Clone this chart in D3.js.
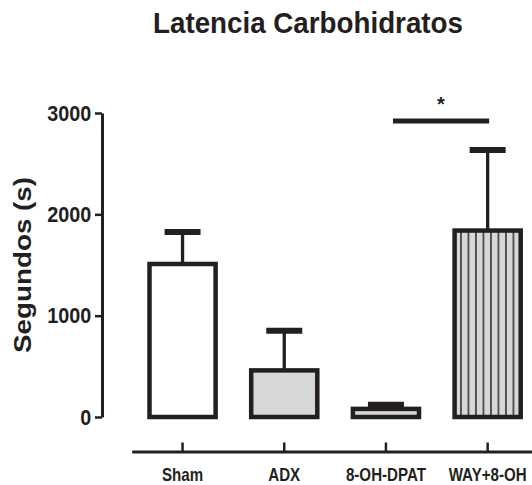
<!DOCTYPE html>
<html>
<head>
<meta charset="utf-8">
<script src="https://cdn.jsdelivr.net/npm/d3@7"></script>
<style>
body { margin: 0; background: #fff; }
svg { display: block; }
.axisClass text { font-family: "Liberation Sans", Arial, sans-serif; font-weight: bold; fill: #231f20; }
.axisClass line, .axisClass path { stroke: #231f20; }
</style>
</head>
<body>
<div id="chart"></div>
<script>

// data
const groups = ["Sham", "ADX", "8-OH-DPAT", "WAY+8-OH"]
const means = [1510, 460, 80, 1840]
const sems = [315, 390, 40, 795]
const yTicks = [0, 1000, 2000, 3000]
const sigPair = ["8-OH-DPAT", "WAY+8-OH"]

const config = {
    width: 532,
    height: 485,
    ink: "#231f20",
    grey: "#d6d7d9",
}

const fills = ["#ffffff", config.grey, config.grey, "url(#stripes)"]

const svg = d3.select('#chart').append('svg').attr("width", config.width).attr("height", config.height)

const x = d3.scaleBand().domain(groups).range([131.7, 538.5]).padding(0)
const y = d3.scaleLinear().domain([0, 3000]).range([417, 113])

const barW = x.bandwidth() * 0.65

// vertical stripes for the last bar
const pat = svg.append('defs').append('pattern')
    .attr("id", "stripes")
    .attr("patternUnits", "userSpaceOnUse")
    .attr("width", 7.5)
    .attr("height", 10)
    .attr("x", x(groups[3]) + x.bandwidth() / 2 - barW / 2 + 2.6)
pat.append('rect').attr("width", 7.5).attr("height", 10).attr('fill', config.grey)
pat.append('line').attr("x1", 3.75).attr("x2", 3.75).attr("y1", 0).attr("y2", 10)
    .attr('stroke', config.ink).attr('stroke-width', 1.4)

// title
svg.append('text')
    .attr("x", 308)
    .attr("y", 33)
    .attr("text-anchor", "middle")
    .attr("font-family", "Liberation Sans, Arial, sans-serif")
    .attr("font-weight", "bold")
    .attr("font-size", 30)
    .attr("textLength", 310)
    .attr("lengthAdjust", "spacingAndGlyphs")
    .attr('fill', config.ink)
    .text("Latencia Carbohidratos")

// y axis title
svg.append('text')
    .attr("transform", "translate(30.5,265) rotate(-90)")
    .attr("text-anchor", "middle")
    .attr("font-family", "Liberation Sans, Arial, sans-serif")
    .attr("font-weight", "bold")
    .attr("font-size", 23)
    .attr("textLength", 176)
    .attr("lengthAdjust", "spacingAndGlyphs")
    .attr('fill', config.ink)
    .text("Segundos (s)")

const axisLeft = d3.axisLeft(y).tickValues(yTicks).tickFormat(d3.format("d")).tickSize(7).tickSizeOuter(0).tickPadding(4)
const yAxis = svg.append('g')
    .attr("transform", "translate(102,0)")
    .attr('class', "axisClass")
    .call(axisLeft)
yAxis.select(".domain").attr('stroke-width', 3)
yAxis.selectAll(".tick line").attr('stroke-width', 2.5)
yAxis.selectAll(".tick text")
    .attr("x", -12)
    .attr("font-size", 22)
    .attr("transform", "scale(0.9,1)")

const axisBottom = d3.axisBottom(x).tickSize(-9).tickSizeOuter(0).tickPadding(17)
const xAxis = svg.append('g')
    .attr("transform", "translate(0,451.5)")
    .attr('class', "axisClass")
    .call(axisBottom)
xAxis.select(".domain").attr('stroke-width', 3)
xAxis.selectAll(".tick line").attr('stroke-width', 2.5)
xAxis.selectAll(".tick text")
    .attr("font-size", 18)
    .attr("transform", "scale(0.84,1)")

const rows = groups.map((g, i) => ({ g: g, mean: means[i], sem: sems[i], fill: fills[i] }))
const cx = d => x(d.g) + x.bandwidth() / 2

// error bars (upper only)
svg.selectAll('line.stem')
    .data(rows)
    .enter()
    .append('line')
    .attr('class', 'stem')
    .attr("x1", cx).attr("x2", cx)
    .attr("y1", d => y(d.mean))
    .attr("y2", d => y(d.mean + d.sem))
    .attr('stroke', config.ink)
    .attr('stroke-width', 3.3)

svg.selectAll('line.cap')
    .data(rows)
    .enter()
    .append('line')
    .attr('class', 'cap')
    .attr("x1", d => cx(d) - 18).attr("x2", d => cx(d) + 18)
    .attr("y1", d => y(d.mean + d.sem))
    .attr("y2", d => y(d.mean + d.sem))
    .attr('stroke', config.ink)
    .attr('stroke-width', 6)

// bars
svg.selectAll('rect.bar')
    .data(rows)
    .enter()
    .append('rect')
    .attr('class', 'bar')
    .attr("x", d => cx(d) - barW / 2)
    .attr("y", d => y(d.mean))
    .attr("width", barW)
    .attr("height", d => y(0) - y(d.mean))
    .attr('fill', d => d.fill)
    .attr('stroke', config.ink)
    .attr('stroke-width', 4.5)

// significance bracket
const sigY = y(d3.max(rows, d => d.mean + d.sem)) - 29
svg.append('line')
    .attr("x1", x(sigPair[0]) + x.bandwidth() / 2 + 7)
    .attr("x2", x(sigPair[1]) + x.bandwidth() / 2 + 1.5)
    .attr("y1", sigY).attr("y2", sigY)
    .attr('stroke', config.ink)
    .attr('stroke-width', 5)

svg.append('text')
    .attr("x", (x(sigPair[0]) + x(sigPair[1])) / 2 + x.bandwidth() / 2 + 4)
    .attr("y", sigY - 10)
    .attr("text-anchor", "middle")
    .attr("font-family", "Liberation Sans, Arial, sans-serif")
    .attr("font-weight", "bold")
    .attr("font-size", 20)
    .attr('fill', config.ink)
    .text("*")

</script>
</body>
</html>
